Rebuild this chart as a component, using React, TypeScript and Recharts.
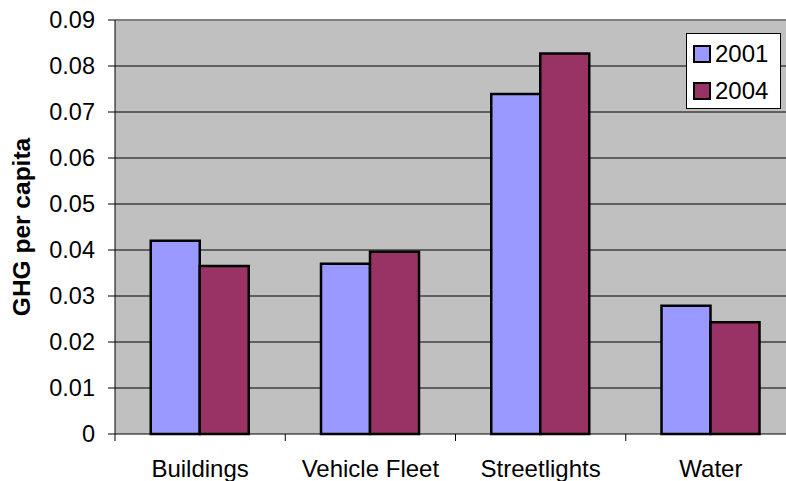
import React from 'react';
import { BarChart, Bar, XAxis, YAxis, CartesianGrid, Legend, ReferenceLine, Label } from 'recharts';

const categories = ['Buildings', 'Vehicle Fleet', 'Streetlights', 'Water'];
const series2001 = [0.042, 0.037, 0.0739, 0.0279];
const series2004 = [0.0365, 0.0396, 0.0827, 0.0243];
const seriesNames = ['2001', '2004'];
const seriesColors = ['#9999FF', '#993366'];
const yTicks = [0, 0.01, 0.02, 0.03, 0.04, 0.05, 0.06, 0.07, 0.08, 0.09];
const yTitle = 'GHG per capita';

const data = categories.map((c, i) => ({ name: c, s2001: series2001[i], s2004: series2004[i] }));

const CHART_W = 796;
const CHART_H = 481;
const Y_AXIS_W = 115;
const X_AXIS_H = 47;
const FONT = '"Liberation Sans", Arial, sans-serif';
const BAND = (CHART_W - Y_AXIS_W) / categories.length;

const XTick = (props: any) => {
  const { x, y, payload } = props;
  const left = x - BAND / 2;
  return (
    <g>
      <line x1={left} x2={left} y1={y} y2={y + 7} stroke="#000" strokeWidth={1} />
      <text x={x} y={y + 43} textAnchor="middle" fontFamily={FONT} fontSize={24} fill="#000">
        {payload.value}
      </text>
    </g>
  );
};

const YLabel = (props: any) => {
  const vb = props.viewBox || {};
  const cx = 21;
  const cy = (vb.y ?? 20) + (vb.height ?? 414) / 2;
  return (
    <text
      x={cx}
      y={cy}
      transform={`rotate(-90 ${cx} ${cy})`}
      textAnchor="middle"
      dominantBaseline="central"
      fontFamily={FONT}
      fontSize={24.5}
      fontWeight="bold"
      fill="#000"
    >
      {yTitle}
    </text>
  );
};

const LegendBox = () => (
  <div
    style={{
      border: '1px solid #000',
      background: '#fff',
      width: 95,
      height: 76,
      boxSizing: 'border-box',
      fontFamily: FONT,
      fontSize: 24,
      color: '#000',
      paddingTop: 1,
      paddingLeft: 6,
    }}
  >
    {seriesNames.map((n, i) => (
      <div key={n} style={{ display: 'flex', alignItems: 'center', height: 37 }}>
        <span
          style={{
            display: 'inline-block',
            width: 14,
            height: 14,
            background: seriesColors[i],
            border: '2px solid #000',
            marginRight: 4,
            boxSizing: 'content-box',
          }}
        />
        <span>{n}</span>
      </div>
    ))}
  </div>
);

export default function App() {
  return (
    <div style={{ position: 'absolute', left: 0, top: 0, width: 786, height: 481, overflow: 'hidden', background: '#fff' }}>
      <BarChart
        width={CHART_W}
        height={CHART_H}
        data={data}
        margin={{ top: 20, right: 0, bottom: 0, left: 0 }}
        barCategoryGap="21%"
        barGap={0}
      >
        <CartesianGrid
          vertical={false}
          horizontalValues={[0.01, 0.02, 0.03, 0.04, 0.05, 0.06, 0.07, 0.08]}
          stroke="#000"
          strokeWidth={1}
          fill="#C0C0C0"
          fillOpacity={1}
        />
        <ReferenceLine y={0.09} stroke="#808080" strokeWidth={2} ifOverflow="visible" />
        <XAxis
          dataKey="name"
          height={X_AXIS_H}
          tickSize={0}
          tickMargin={0}
          tick={<XTick />}
          axisLine={{ stroke: '#000', strokeWidth: 1 }}
          tickLine={false}
          interval={0}
        />
        <YAxis
          width={Y_AXIS_W}
          domain={[0, 0.09]}
          ticks={yTicks}
          interval={0}
          tickFormatter={(v: number) => (v === 0 ? '0' : v.toFixed(2))}
          tickSize={7}
          tickMargin={13}
          tick={{ fontFamily: FONT, fontSize: 23.5, fill: '#000' }}
          tickLine={{ stroke: '#000' }}
          axisLine={{ stroke: '#000', strokeWidth: 1 }}
        >
          <Label content={<YLabel />} />
        </YAxis>
        <Legend
          layout="vertical"
          align="center"
          verticalAlign="middle"
          content={<LegendBox />}
          wrapperStyle={{ position: 'absolute', left: 686, top: 33, width: 95, height: 76 }}
        />
        <Bar dataKey="s2001" name={seriesNames[0]} fill={seriesColors[0]} stroke="#000" strokeWidth={2.5} isAnimationActive={false} />
        <Bar dataKey="s2004" name={seriesNames[1]} fill={seriesColors[1]} stroke="#000" strokeWidth={2.5} isAnimationActive={false} />
      </BarChart>
    </div>
  );
}
